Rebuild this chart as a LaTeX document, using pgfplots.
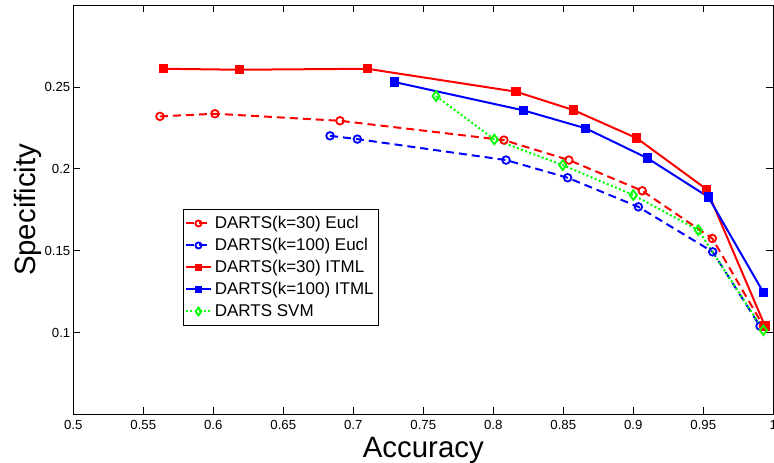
\documentclass[border=0pt]{standalone}
\usepackage{fontspec}
\setmainfont{Liberation Sans}
\usepackage{pgfplots}
\pgfplotsset{compat=1.18}

\begin{document}
\begin{tikzpicture}

\definecolor{mred}{RGB}{255,0,0}
\definecolor{mblue}{RGB}{0,0,255}
\definecolor{mgreen}{RGB}{0,255,0}

\begin{axis}[
scale only axis,
width=350pt, height=204.5pt,
xmin=0.5, xmax=1,
ymin=0.05, ymax=0.3,
xtick={0.5,0.55,0.6,0.65,0.7,0.75,0.8,0.85,0.9,0.95,1},
xticklabels={0.5,0.55,0.6,0.65,0.7,0.75,0.8,0.85,0.9,0.95,1},
ytick={0.1,0.15,0.2,0.25},
yticklabels={0.1,0.15,0.2,0.25},
tick align=inside,
tick pos=both,
major tick length=3.5pt,
axis line style={line width=0.5pt},
tick style={black, line width=0.5pt},
/pgf/number format/assume math mode=true,
xticklabel style={font=\fontsize{6.6}{8}\selectfont, anchor=north, inner sep=0pt, yshift=-2.85pt},
yticklabel style={font=\fontsize{6.6}{8}\selectfont, anchor=east, inner sep=0pt, xshift=-1.3pt},
xlabel={Accuracy},
ylabel={Specificity},
label style={font=\fontsize{14.7}{17}\selectfont},
xlabel style={at={(axis description cs:0.5,-0.1051)}, anchor=base},
ylabel style={at={(axis description cs:-0.0547,0.5)}, anchor=base, rotate=0},
legend cell align={left},
legend style={at={(0.156,0.502)}, anchor=north west, draw=black, line width=0.5pt,
  font=\fontsize{8.5}{10}\selectfont, row sep=0pt, inner xsep=1pt, inner ysep=1.5pt,
  nodes={inner sep=1.4pt, text height=6.4pt, text depth=1.8pt}},
legend image code/.code={\draw[mark repeat=2,mark phase=2,#1,every mark/.append style={scale=0.8}]
  plot coordinates {(0pt,0pt)(6.25pt,0pt)(12.5pt,0pt)};},
]
\addplot [mred, line width=1pt, dash pattern=on 4pt off 2.5pt, mark=o, mark size=1.9pt,
  mark options={solid, line width=0.9pt}]
table {%
0.5619 0.2321
0.6012 0.2337
0.6905 0.2294
0.8076 0.2176
0.8540 0.2054
0.9064 0.1866
0.9564 0.1575
0.9929 0.1040
};
\addlegendentry{DARTS(k=30) Eucl}
\addplot [mblue, line width=1pt, dash pattern=on 4pt off 2.5pt, mark=o, mark size=1.9pt,
  mark options={solid, line width=0.9pt}]
table {%
0.6834 0.2202
0.7029 0.2182
0.8091 0.2054
0.8531 0.1946
0.9036 0.1768
0.9567 0.1493
0.9905 0.1039
};
\addlegendentry{DARTS(k=100) Eucl}
\addplot [mred, line width=1pt, mark=square*, mark size=1.85pt, mark options={solid}]
table {%
0.5643 0.2612
0.6186 0.2606
0.7100 0.2612
0.8162 0.2472
0.8571 0.2360
0.9024 0.2188
0.9524 0.1875
0.9941 0.1039
};
\addlegendentry{DARTS(k=30) ITML}
\addplot [mblue, line width=1pt, mark=square*, mark size=1.85pt, mark options={solid}]
table {%
0.7293 0.2531
0.8214 0.2358
0.8660 0.2248
0.9100 0.2066
0.9536 0.1828
0.9929 0.1245
};
\addlegendentry{DARTS(k=100) ITML}
\addplot [mgreen, line width=1pt, dash pattern=on 1pt off 1.2pt, mark=diamond, mark size=2.4pt,
  mark options={solid, line width=0.9pt}]
table {%
0.7591 0.2445
0.8007 0.2180
0.8496 0.2023
0.9000 0.1840
0.9464 0.1626
0.9929 0.1014
};
\addlegendentry{DARTS SVM}
\coordinate (sw) at (rel axis cs:0,0);
\coordinate (ne) at (rel axis cs:1,1);
\end{axis}
\pgfresetboundingbox
\path ([xshift=-36.65pt,yshift=-24.35pt]sw) rectangle ([xshift=0.35pt,yshift=2.65pt]ne);
\end{tikzpicture}
\end{document}
